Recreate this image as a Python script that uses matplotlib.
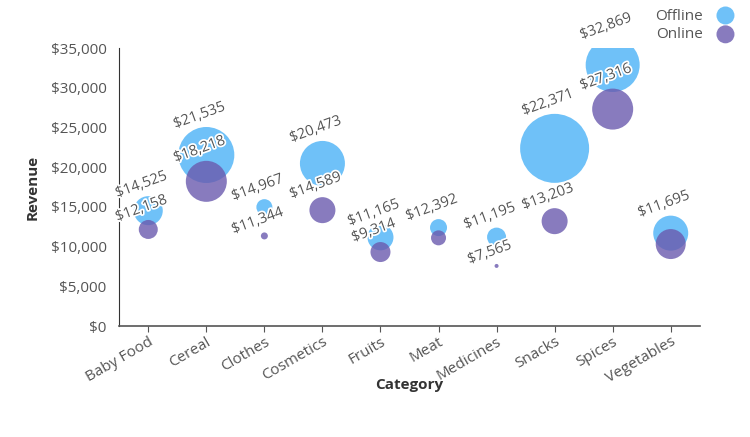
import numpy as np
import matplotlib.pyplot as plt
import matplotlib.patheffects as pe

plt.rcParams['font.family'] = ['Open Sans', 'DejaVu Sans']

categories = ['Baby Food', 'Cereal', 'Clothes', 'Cosmetics', 'Fruits', 'Meat',
              'Medicines', 'Snacks', 'Spices', 'Vegetables']
offline_rev = [14525, 21535, 14967, 20473, 11165, 12392, 11195, 22371, 32869, 11695]
online_rev = [12158, 18218, 11344, 14589, 9314, 11100, 7565, 13203, 27316, 10320]
# which value labels are shown (the hidden ones overlap in the original)
offline_shown = [True] * 10
online_shown = [True, True, True, True, True, False, True, True, True, False]
# third variable (bubble size, relative units)
offline_units = [29, 56, 16, 45, 26, 17, 19, 69, 54, 35]
online_units = [19, 41, 7, 26, 20, 15, 4, 26, 41, 30]

off_color = '#4fb4f7'
on_color = '#6a5aae'
px = 0.72  # points per pixel at dpi 100

fig = plt.figure(figsize=(7.5, 4.37), dpi=100)
ax = fig.add_axes([0.159, 0.254, 0.774, 0.636])
x = np.arange(len(categories))

ax.scatter(x, offline_rev, s=(np.array(offline_units) * px) ** 2, color=off_color,
           alpha=0.82, edgecolors='none', label='Offline', zorder=2)
ax.scatter(x, online_rev, s=(np.array(online_units) * px) ** 2, color=on_color,
           alpha=0.8, edgecolors='none', label='Online', zorder=3)

halo = [pe.withStroke(linewidth=2.5, foreground='white')]
for ys, us, shown in [(offline_rev, offline_units, offline_shown),
                      (online_rev, online_units, online_shown)]:
    for xi, yi, ui, sh in zip(x, ys, us, shown):
        if not sh:
            continue
        ax.annotate(f'${yi:,}', (xi, yi), xytext=(-3, ui * px / 2 + 3),
                    textcoords='offset points', ha='center', va='bottom',
                    rotation=20, rotation_mode='anchor', fontsize=10.5,
                    color='#555555', path_effects=halo, zorder=4)

ax.set_xlim(-0.5, len(categories) - 0.5)
ax.set_ylim(0, 35000)
ax.set_yticks(np.arange(0, 35001, 5000))
ax.set_yticklabels([f'${v:,}' for v in range(0, 35001, 5000)])
ax.set_xticks(x)
ax.set_xticklabels(categories, rotation=30, ha='right', rotation_mode='anchor')

for s in ['top', 'right']:
    ax.spines[s].set_visible(False)
ax.spines['left'].set_color('#333333')
ax.spines['bottom'].set_color('#555555')
ax.spines['bottom'].set_linewidth(1.2)
ax.tick_params(axis='y', length=0, pad=9, labelsize=11, labelcolor='#555555')
ax.tick_params(axis='x', length=4, color='#555555', labelsize=11, labelcolor='#555555', pad=2)

ax.set_ylabel('Revenue', fontsize=11, color='#333333', fontweight='bold', labelpad=8)
ax.set_xlabel('Category', fontsize=11, color='#333333', fontweight='bold', labelpad=-6)

fig.legend(loc='upper right', bbox_to_anchor=(1.006, 1.012), frameon=False,
           markerfirst=False, fontsize=11, labelcolor='#555555',
           markerscale=1.0, handletextpad=0.5, labelspacing=0.25)
leg = fig.legends[0]
for h in leg.legend_handles:
    h.set_sizes([(18 * px) ** 2])

fig.savefig('out.png', dpi=100)
